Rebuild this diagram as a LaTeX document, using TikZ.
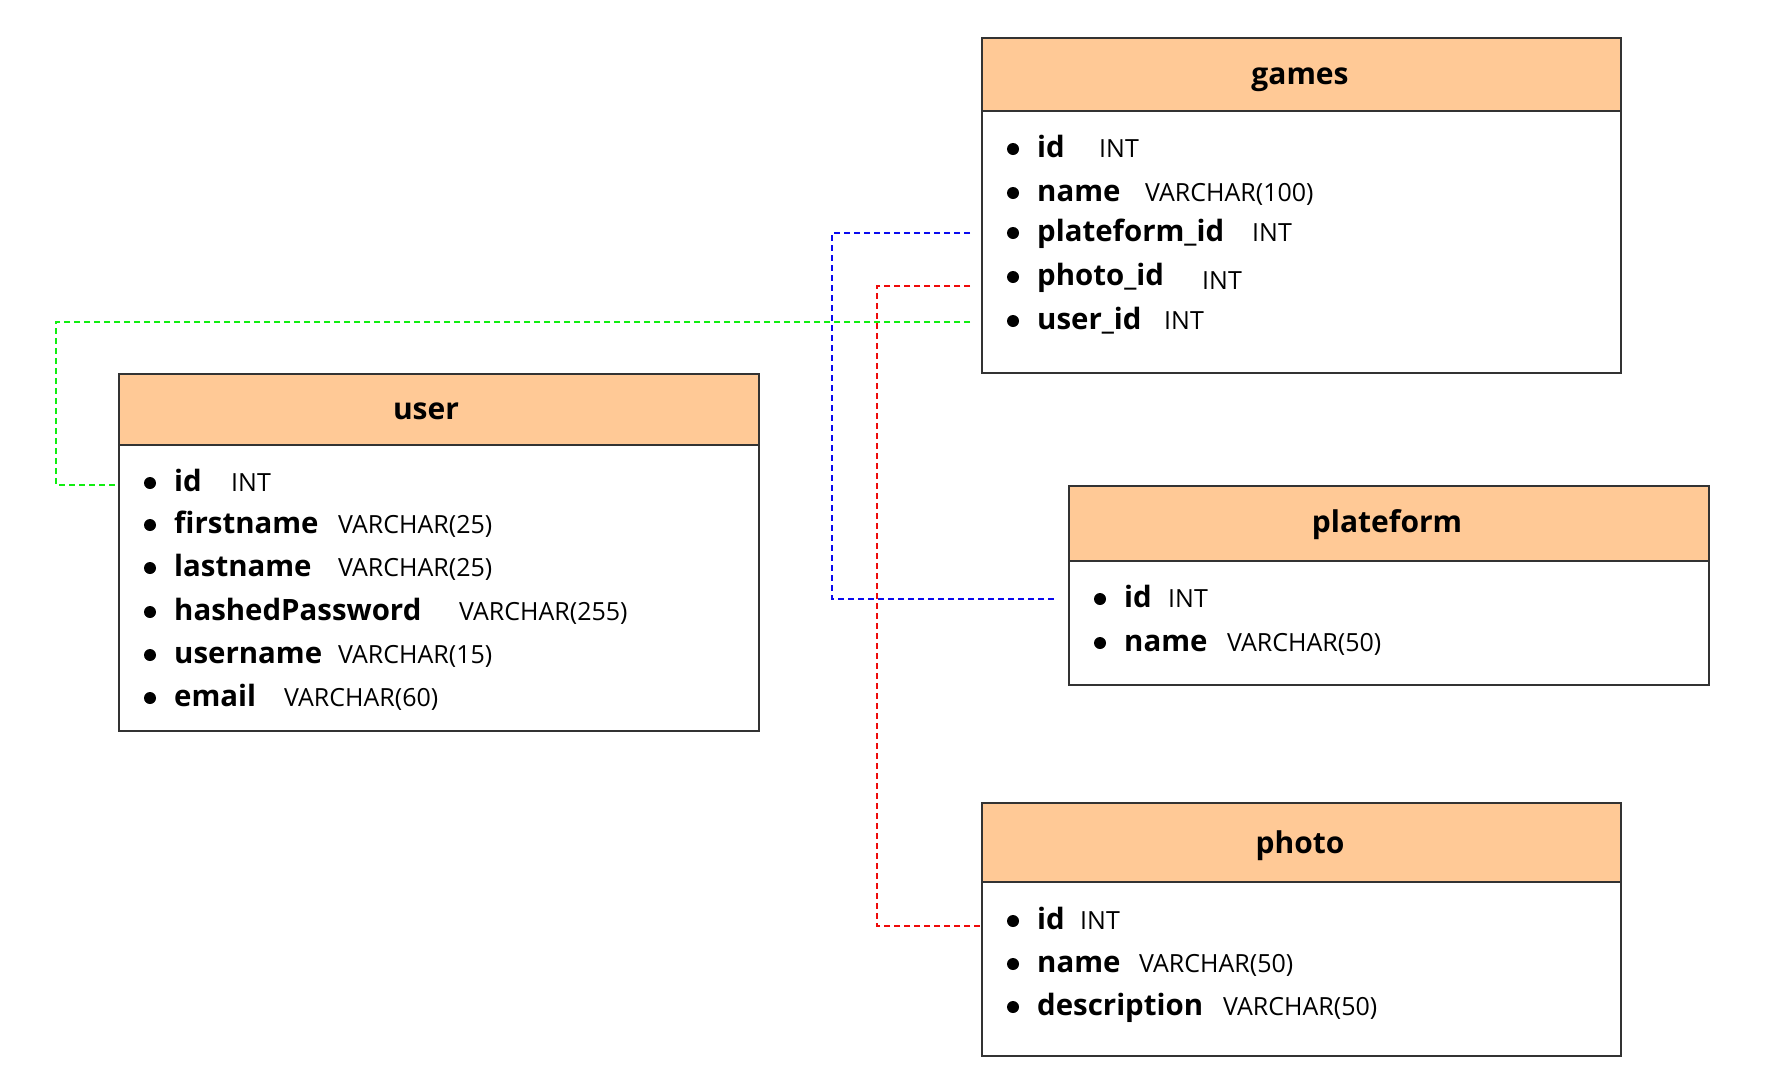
\documentclass[tikz,border=0pt]{standalone}
\usepackage{fontspec}
\setmainfont{Open Sans}
\begin{document}
\begin{tikzpicture}[x=1pt,y=-1pt,
  hdr/.style={draw=black!80, line width=1.5pt, fill=hdrfill, anchor=north west, inner sep=0pt},
  ttl/.style={anchor=base, inner sep=0pt, font=\fontsize{30}{32}\selectfont\bfseries},
  body/.style={draw=black!80, line width=1.5pt, fill=white, anchor=north west, inner sep=0pt},
  bul/.style={circle, fill=black, inner sep=0pt, minimum size=12pt},
  fname/.style={anchor=base west, inner sep=0pt, font=\fontsize{29.4}{31}\selectfont\bfseries},
  ftype/.style={anchor=base west, inner sep=0pt, font=\fontsize{25}{27}\selectfont},
  link/.style={line width=2.4pt, dash pattern=on 6pt off 4pt}
]
\definecolor{hdrfill}{HTML}{FFC996}
\definecolor{lgreen}{HTML}{11EE11}
\definecolor{lblue}{HTML}{0A0AEE}
\definecolor{lred}{HTML}{EE0A0A}
\useasboundingbox (0,0) rectangle (1768,1088);
\newcommand\fld[6]{%
  \node[bul] (#1b) at (#2,#3) {};
  \node[fname] (#1) at (#2+24,#3+8) {#4};
  \node[ftype] (#1t) at (#5,#3+8) {#6};}

% games
\node[body, minimum width=639pt, minimum height=262pt] (gB) at (981,110) {};
\node[hdr, minimum width=639pt, minimum height=73pt] (gH) at (981,37) {};
\node[ttl] (gT) at (1300,84) {games};
\fld{gid}{1013}{149}{id}{1099}{INT}
\fld{gname}{1013}{193}{name}{1145}{VARCHAR(100)}
\fld{gplat}{1013}{233}{plateform\_id}{1252}{INT}
\fld{gphoto}{1013}{277}{photo\_id}{1202}{\raisebox{-4pt}{INT}}
\fld{guser}{1013}{321}{user\_id}{1164}{INT}

% user
\node[body, minimum width=640pt, minimum height=286pt] (uB) at (118,444) {};
\node[hdr, minimum width=640pt, minimum height=71pt] (uH) at (118,373) {};
\node[ttl] (uT) at (426,419) {user};
\fld{uid}{150}{483}{id}{231}{INT}
\fld{ufirst}{150}{525}{firstname}{338}{VARCHAR(25)}
\fld{ulast}{150}{568}{lastname}{338}{VARCHAR(25)}
\fld{uhash}{150}{612}{hashedPassword}{459}{VARCHAR(255)}
\fld{uuser}{150}{655}{username}{338}{VARCHAR(15)}
\fld{umail}{150}{698}{email}{284}{VARCHAR(60)}

% plateform
\node[body, minimum width=640pt, minimum height=124pt] (pB) at (1068,560) {};
\node[hdr, minimum width=640pt, minimum height=75pt] (pH) at (1068,485) {};
\node[ttl] (pT) at (1387,532) {plateform};
\fld{pid}{1100}{599}{id}{1168}{INT}
\fld{pname}{1100}{643}{name}{1227}{VARCHAR(50)}

% photo
\node[body, minimum width=639pt, minimum height=174pt] (phB) at (981,881) {};
\node[hdr, minimum width=639pt, minimum height=79pt] (phH) at (981,802) {};
\node[ttl] (phT) at (1300,853) {photo};
\fld{phid}{1013}{921}{id}{1080}{INT}
\fld{phname}{1013}{964}{name}{1139}{VARCHAR(50)}
\fld{phdesc}{1013}{1007}{description}{1223}{VARCHAR(50)}

% links
\coordinate (gplatL) at ([xshift=-11pt]gB.west |- gplatb);
\coordinate (pidL) at ([xshift=-13pt]pB.west |- pidb);
\coordinate (gphotoL) at ([xshift=-11pt,yshift=-9pt]gB.west |- gphotob);
\coordinate (guserL) at ([xshift=-11pt,yshift=-1pt]gB.west |- guserb);
\coordinate (phidL) at ([yshift=-5pt]phB.west |- phidb);
\coordinate (uidL) at ([yshift=-2pt]uB.west |- uidb);
\draw[link, lblue] (gplatL) -- (832,0 |- gplatL) |- (pidL);
\draw[link, lred] (gphotoL) -- (877,0 |- gphotoL) |- (phidL);
\draw[link, lgreen] (guserL) -- (56,0 |- guserL) |- (uidL);
\end{tikzpicture}
\end{document}
